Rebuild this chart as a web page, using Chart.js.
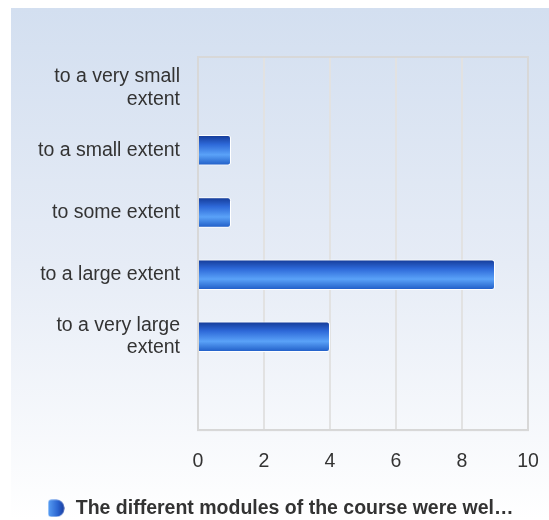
<!DOCTYPE html>
<html>
<head>
<meta charset="utf-8">
<script src="https://cdn.jsdelivr.net/npm/chart.js@4"></script>
<style>
  html, body { margin: 0; padding: 0; background: #fff; }
  #wrap {
    position: absolute; left: 11px; top: 8px; width: 538px; height: 512px;
    background: linear-gradient(to bottom, #d3dff0 0%, #e6ecf6 50%, #ffffff 100%);
  }
</style>
</head>
<body>
<div id="wrap"><canvas id="chart"></canvas></div>
<script>
// data
const categories = [
    ['to a very small', 'extent'],
    'to a small extent',
    'to some extent',
    'to a large extent',
    ['to a very large', 'extent'],
    ''
]
const answers = [0, 1, 1, 9, 4, null]
const seriesName = 'The different modules of the course were wel\u2026'
const xTicks = [0, 2, 4, 6, 8, 10]

const FONT = 'Liberation Sans, Arial'

// little legend icon
const icon = document.createElement('canvas')
icon.width = 17
icon.height = 18
const ictx = icon.getContext('2d')
const ig = ictx.createLinearGradient(0, 0, 17, 0)
ig.addColorStop(0, '#5aa0f5')
ig.addColorStop(0.6, '#2a64d0')
ig.addColorStop(1, '#17399a')
ictx.fillStyle = ig
ictx.beginPath()
ictx.roundRect(0.5, 0.5, 16, 17, [3, 8, 8, 3])
ictx.fill()

const barFill = (ctx) => {
    const chart = ctx.chart
    const y = chart.scales.y
    if (!y || ctx.dataIndex === undefined) return '#2a64d0'
    const c = y.getPixelForTick(ctx.dataIndex)
    const h = 15
    const g = chart.ctx.createLinearGradient(0, c - h, 0, c + h)
    g.addColorStop(0, '#143a96')
    g.addColorStop(0.3, '#2d68d8')
    g.addColorStop(0.65, '#5aa2f8')
    g.addColorStop(1, '#1f5cc6')
    return g
}

// box round the plot area
const frame = {
    id: 'frame',
    beforeDatasetsDraw(chart) {
        const a = chart.chartArea
        const c = chart.ctx
        c.save()
        c.strokeStyle = '#d8d8d8'
        c.lineWidth = 2
        c.strokeRect(a.left, a.top, a.right - a.left, a.bottom - a.top)
        c.restore()
    }
}

var ctx = document.getElementById('chart').getContext('2d')
var chart = new Chart(ctx, {
    type: 'bar',
    data: {
        labels: categories,
        datasets: [{
            label: seriesName,
            data: answers,
            backgroundColor: barFill,
            borderColor: '#ffffff',
            borderWidth: 1,
            borderRadius: 3,
            borderSkipped: 'start',
            categoryPercentage: 1,
            barPercentage: 0.49
        }]
    },
    options: {
        indexAxis: 'y',
        responsive: true,
        maintainAspectRatio: false,
        animation: false,
        layout: { padding: { top: 49, right: 9, bottom: -8, left: 9 } },
        scales: {
            x: {
                min: 0,
                max: 10,
                afterBuildTicks: (axis) => { axis.ticks = xTicks.map(v => ({ value: v })) },
                afterFit: (axis) => { axis.paddingRight = 21 },
                grid: { color: '#e2e2e2', lineWidth: 2, drawTicks: false },
                border: { color: '#d8d8d8', width: 2 },
                ticks: { color: '#333', padding: 20, font: { family: FONT, size: 19.5 } }
            },
            y: {
                grid: { display: false, drawTicks: false },
                border: { color: '#d4d4d4', width: 2 },
                ticks: { color: '#333', padding: 18, font: { family: FONT, size: 19.5, lineHeight: 1.15 } }
            }
        },
        plugins: {
            legend: {
                position: 'bottom',
                labels: {
                    usePointStyle: true,
                    pointStyle: icon,
                    color: '#333',
                    padding: 5,
                    font: { family: FONT, size: 19.5, weight: 'bold' }
                }
            },
            tooltip: { enabled: false }
        }
    },
    plugins: [frame]
})
</script>
</body>
</html>
